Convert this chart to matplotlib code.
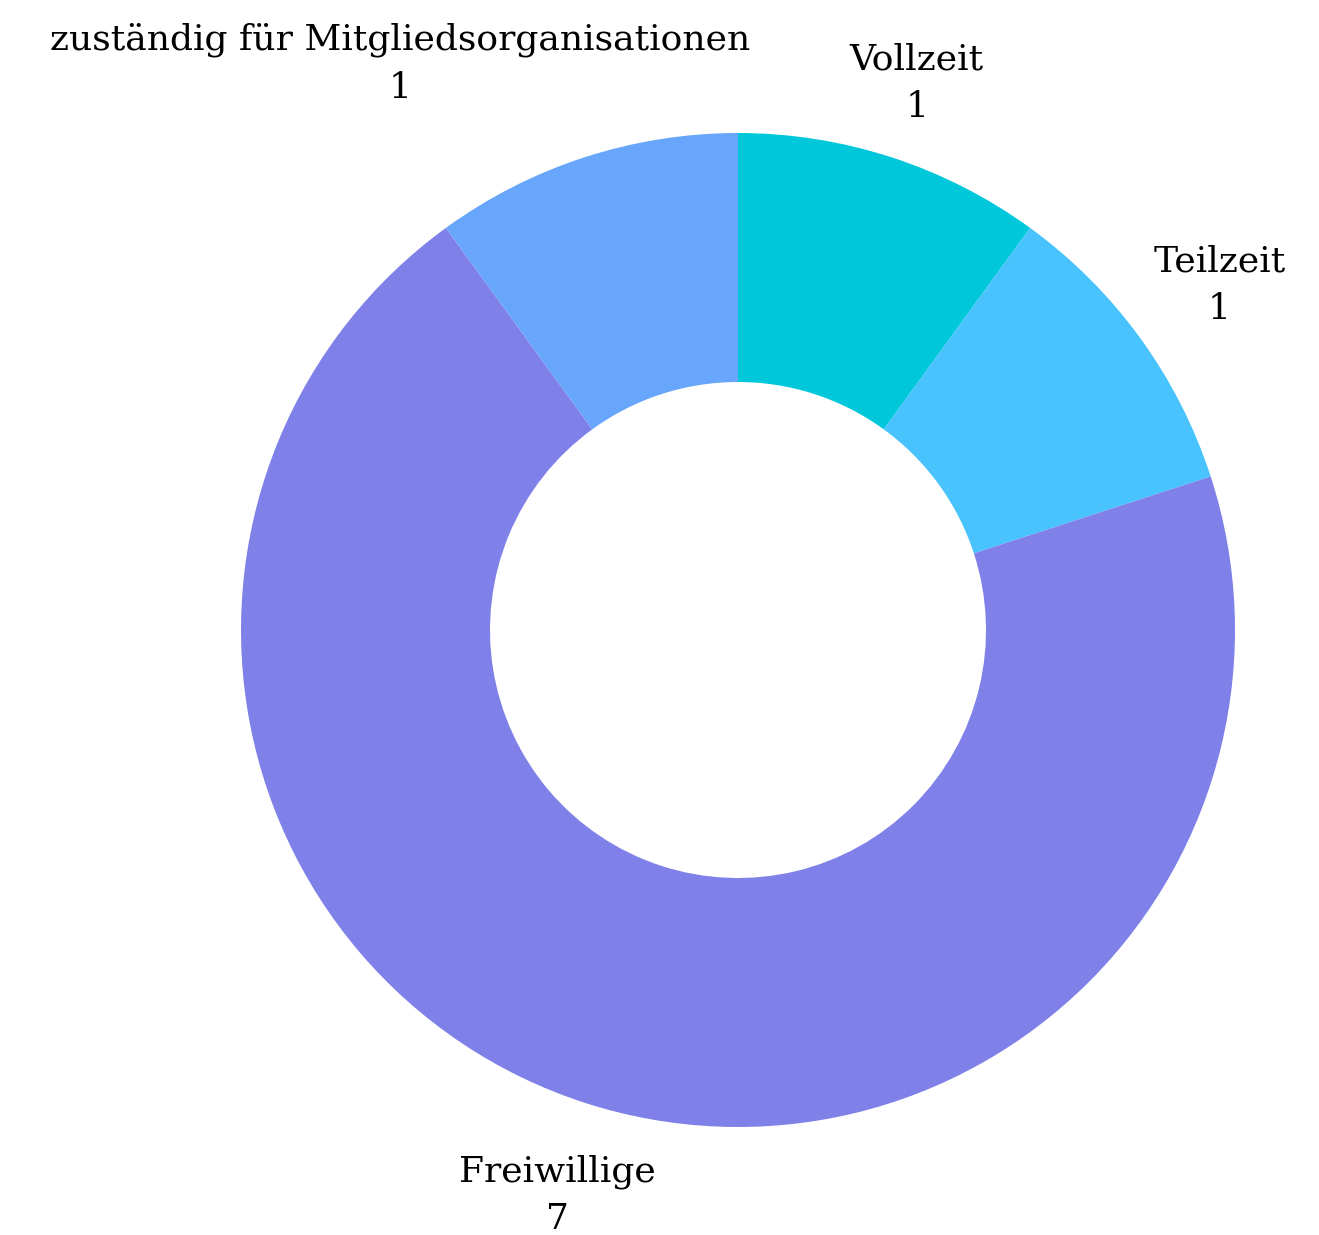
import numpy as np
from matplotlib import pyplot as plt

# Daten
kategorien = ["Vollzeit", "Teilzeit", "Freiwillige", "zuständig für Mitgliedsorganisationen"]
werte = [1, 1, 7, 1]
farben = ["#00C8DA", "#48C3FD", "#7F80E8", "#67A6FA"]

W, H = 1319, 1235
fig = plt.figure(figsize=(W / 100, H / 100), dpi=100)
ax = fig.add_axes([0, 0, 1, 1])

cx, cy = 738, H - 630
radius = 497
wedges, _ = ax.pie(werte, colors=farben, startangle=90, counterclock=False,
                   radius=radius, center=(cx, cy),
                   wedgeprops=dict(width=radius - 248, linewidth=0))

ax.set_xlim(0, W)
ax.set_ylim(0, H)
ax.set_aspect("equal", adjustable="box")
ax.axis("off")

# Beschriftungen ausserhalb des Rings
verschiebung = {0: (-2, -10), 1: (8, 1), 2: (0, -9), 3: (-157, 10)}
for i, w in enumerate(wedges):
  mitte = np.deg2rad((w.theta1 + w.theta2) / 2)
  r = 585
  dx, dy = verschiebung.get(i, (0, 0))
  x = cx + r * np.cos(mitte) + dx
  y = cy + r * np.sin(mitte) + dy
  ax.text(x, y, kategorien[i] + "\n" + str(werte[i]), ha="center", va="center",
          fontsize=26, family="DejaVu Serif", color="#000000", linespacing=1.5)

fig.savefig("out.png", dpi=100)
